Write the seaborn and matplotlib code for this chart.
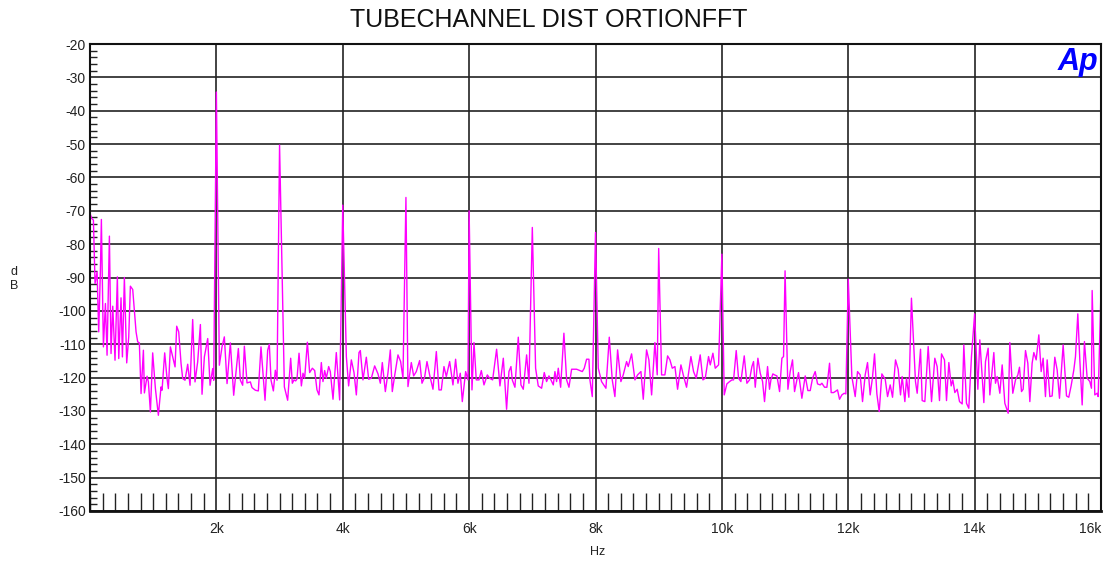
import matplotlib
matplotlib.use("Agg")
import matplotlib.pyplot as plt
import seaborn as sns
import numpy as np
import pandas as pd
from matplotlib.ticker import MultipleLocator

sns.set_style("white")
plt.rcParams['font.family'] = ['Liberation Sans', 'DejaVu Sans']

# FFT trace (Hz, dBV)
freq_hz = [
    0, 27, 54, 80, 112, 138, 164, 180, 212, 244, 270, 307, 333, 360, 396, 433, 455, 491, 513, 544,
    581, 613, 639, 676, 729, 755, 781, 808, 845, 861, 903, 924, 956, 992, 1035, 1082, 1124, 1140,
    1182, 1219, 1240, 1272, 1309, 1346, 1372, 1404, 1441, 1467, 1504, 1546, 1583, 1625, 1662, 1704,
    1747, 1773, 1810, 1863, 1900, 1942, 1958, 2000, 2047, 2089, 2126, 2169, 2221, 2274, 2348, 2380,
    2416, 2443, 2485, 2538, 2564, 2617, 2664, 2706, 2770, 2812, 2838, 2865, 2902, 2933, 2960, 3000,
    3076, 3128,
    3176, 3202, 3229, 3255, 3276, 3308, 3345, 3371, 3397, 3440, 3476, 3519, 3556, 3592, 3624, 3661,
    3687, 3714, 3740, 3777, 3803, 3846, 3898, 3951, 4000, 4057, 4093, 4136, 4178, 4215, 4257, 4278,
    4320, 4373, 4410, 4452, 4505, 4558, 4595, 4626, 4674, 4716, 4753, 4784, 4821, 4874, 4916, 4953,
    5000, 5032, 5085, 5122, 5164, 5217, 5254, 5296, 5333, 5375, 5428, 5481, 5523, 5560, 5602, 5639,
    5692, 5744, 5786, 5823, 5860, 5892, 5945, 5982, 6000, 6045, 6077, 6113, 6156, 6193, 6235, 6288,
    6324,
    6372, 6435, 6488, 6541, 6593, 6630, 6662, 6683, 6725, 6778, 6820, 6857, 6910, 6947, 7000, 7052,
    7094, 7147, 7189, 7226, 7263, 7295, 7332, 7358, 7384, 7411, 7448, 7500, 7543, 7580, 7622, 7701,
    7754, 7791, 7822, 7859, 7896, 7912, 7949, 8000, 8044, 8096, 8165, 8218, 8265, 8307, 8350, 8402,
    8439, 8492, 8518, 8571, 8624, 8666, 8719, 8756, 8808, 8845, 8888, 8940, 8977, 9000, 9046, 9098,
    9141, 9178, 9215, 9257, 9299, 9352, 9389, 9441, 9510,
    9552, 9594, 9657, 9700, 9737, 9789, 9816, 9858, 9895, 9948, 10000, 10037, 10079, 10122, 10159,
    10185, 10227, 10264, 10301, 10354, 10396, 10438, 10475, 10501, 10528, 10570, 10607, 10644, 10675,
    10723, 10754, 10776, 10807, 10834, 10871, 10913, 10950, 10976, 11000, 11045, 11081, 11118, 11150,
    11187, 11213, 11240, 11266, 11319, 11361, 11398, 11435, 11477, 11514, 11556, 11583, 11625, 11662,
    11704, 11730, 11767, 11793, 11830, 11862, 11899, 11936, 11962, 12000, 12057, 12110, 12147, 12189,
    12226, 12268, 12305, 12347, 12384, 12416, 12453, 12490, 12532, 12585, 12622, 12664, 12701,
    12748, 12790, 12827, 12853, 12896, 12922, 12959, 13000, 13064, 13091, 13144, 13170, 13212, 13265,
    13318, 13370, 13407, 13444, 13476, 13523, 13555, 13592, 13629, 13655, 13687, 13724, 13761, 13803,
    13829, 13871, 13908, 13950, 14000, 14051, 14082, 14146, 14172, 14214, 14241, 14304, 14330, 14357,
    14399, 14436, 14478, 14531, 14557, 14604, 14647, 14684, 14710, 14742, 14768, 14805, 14842, 14874,
    14910, 14937, 14974, 15016, 15053, 15084, 15121, 15148, 15190, 15227, 15269, 15306, 15343, 15401,
    15454, 15490, 15527, 15570, 15596, 15633, 15665, 15702, 15738, 15781, 15823, 15849, 15860, 15902,
    15939, 15955, 16000,
]

level_db = [
    -70.8, -72.3, -72.8, -91.8, -88.3, -106.3, -88.3, -72.6, -110.8, -97.8, -113.3, -77.6, -112.8, -98.6, -114.8, -89.8, -114.3, -96.1, -113.8, -90.0,
    -115.6, -107.8, -92.6, -93.6, -106.3, -109.3, -109.6, -124.8, -111.8, -124.6, -119.6, -121.3, -130.3, -112.6, -123.3, -131.3, -122.8, -123.8,
    -112.6, -120.3, -123.3, -110.8, -113.8, -116.8, -104.6, -106.3, -115.8, -120.3, -120.8, -116.0, -122.3, -102.6, -121.3, -115.3,
    -104.1, -125.0, -113.8, -108.3, -122.3, -117.3, -120.8, -34.4, -116.3, -110.8, -107.8, -121.8, -109.6, -125.3, -111.3, -120.8,
    -122.3, -110.6, -121.6, -121.3, -123.0, -123.8, -124.0, -110.8, -126.8, -111.8, -110.0, -120.8, -124.0, -117.8, -120.8, -50.3,
    -122.8, -126.8,
    -114.2, -121.7, -120.7, -121.0, -120.4, -112.7, -122.5, -118.7, -120.2, -109.4, -118.5, -117.2, -117.9, -123.7, -125.2, -115.5,
    -121.2, -117.9, -120.2, -116.7, -118.2, -126.5, -112.5, -126.7, -68.3, -113.7, -122.5, -114.7, -118.5, -125.2, -112.5, -111.9,
    -120.7, -113.9, -120.5, -120.2, -116.5, -118.9, -121.7, -115.5, -124.2, -118.5, -111.7, -124.2, -119.5, -113.2, -115.2, -120.2,
    -66.0, -122.7, -115.5, -119.5, -118.2, -114.9, -121.7, -119.9, -115.2, -119.2, -123.5, -112.2, -123.7, -123.7, -116.7, -119.7,
    -115.2, -122.2, -114.5, -121.7, -118.7, -127.2, -118.2, -120.7, -70.0, -123.7, -109.5, -120.7, -120.7, -117.9, -122.2, -119.2,
    -120.2,
    -120.7, -111.5, -122.5, -114.2, -129.5, -118.2, -116.7, -120.7, -122.9, -107.9, -122.2, -123.5, -113.2, -121.7, -75.0, -117.2,
    -122.5, -123.2, -118.5, -121.2, -119.5, -120.7, -122.2, -118.2, -121.2, -117.2, -122.9, -106.7, -120.7, -122.9, -117.5, -117.5,
    -117.9, -118.2, -117.2, -114.5, -114.5, -120.7, -125.7, -76.5, -117.2, -121.2, -123.2, -107.9, -120.7, -125.7, -111.7, -121.2,
    -119.2, -115.2, -116.7, -112.9, -120.7, -119.2, -118.2, -126.5, -111.7, -114.7, -125.2, -109.5, -119.2, -81.3, -119.2, -119.2,
    -113.5, -114.7, -117.2, -116.7, -123.5, -116.2, -119.2, -122.9, -113.7,
    -118.2, -120.2, -113.2, -120.7, -120.2, -113.7, -116.2, -112.7, -117.2, -116.2, -83.0, -125.2, -121.9, -121.2, -120.7,
    -120.7, -111.9, -120.2, -121.2, -113.5, -121.7, -120.7, -116.7, -115.2, -122.9, -114.2, -118.7, -121.2, -127.2,
    -116.7, -123.5, -120.7, -118.9, -119.2, -119.5, -124.2, -114.2, -113.7, -88.0, -123.5, -118.2, -114.7, -124.2,
    -120.7, -118.5, -122.5, -126.2, -119.5, -123.9, -123.9, -120.2, -118.2, -121.9, -122.2, -121.7, -122.9, -122.9,
    -115.7, -124.5, -124.5, -124.2, -123.7, -126.5, -125.2, -124.7, -124.9, -90.5, -119.7, -125.7, -118.2, -119.2,
    -127.2, -119.2, -115.5, -125.2, -119.9, -112.9, -124.9, -130.2, -118.9, -120.5, -125.7, -122.2, -125.9,
    -114.7, -117.5, -125.2, -119.7, -127.2, -120.2, -125.9, -96.2, -121.2, -124.7, -111.5, -126.9, -127.2, -110.7,
    -127.2, -114.2, -116.7, -126.9, -112.9, -114.7, -126.9, -115.5, -122.5, -120.7, -124.5, -123.5, -127.2, -127.9,
    -110.2, -127.7, -129.2, -113.7, -100.9, -123.5, -108.7, -127.5, -115.2, -111.2, -125.2, -112.5, -121.7, -119.7,
    -124.7, -116.2, -127.7, -130.7, -109.5, -124.7, -120.7, -119.2, -116.9, -124.2, -123.5, -111.9, -115.7, -127.2,
    -115.7, -112.5, -114.7, -107.2, -118.2, -114.2, -125.7, -114.7, -125.7, -125.5, -113.9, -117.7, -126.2, -110.2,
    -125.5, -125.9, -122.5, -117.7, -113.7, -100.9, -114.7, -128.2, -109.2, -120.2, -121.2, -123.2, -93.9, -125.2,
    -124.7, -125.7, -93.7,
]

x_ticks = [2000, 4000, 6000, 8000, 10000, 12000, 14000, 16000]
x_tick_labels = ["2k", "4k", "6k", "8k", "10k", "12k", "14k", "16k"]
y_ticks = list(range(-160, -10, 10))

df = pd.DataFrame({"Hz": freq_hz, "dB": level_db})

fig = plt.figure(figsize=(11.04, 5.61), dpi=100)
ax = fig.add_axes([90 / 1104, 1 - 511 / 561, 1011 / 1104, 467 / 561])

# grid first so the trace sits on top
ax.set_axisbelow(True)
ax.grid(True, which="major", color="#222222", linewidth=1.2)

sns.lineplot(data=df, x="Hz", y="dB", ax=ax, color="#ff00ff", linewidth=1.0,
             estimator=None, sort=False)

ax.set_xlim(0, 16000)
ax.set_ylim(-160, -20)
ax.set_xticks(x_ticks)
ax.set_xticklabels(x_tick_labels)
ax.set_yticks(y_ticks)
ax.set_yticklabels([str(v) for v in y_ticks])
ax.xaxis.set_minor_locator(MultipleLocator(200))
ax.yaxis.set_minor_locator(MultipleLocator(2))

# seaborn's white style switches the ticks off
ax.tick_params(which="both", bottom=True, left=True, top=False, right=False)
ax.tick_params(axis="x", which="major", length=0, pad=8, labelsize=10, colors="#222222")
ax.tick_params(axis="y", which="major", length=0, pad=3, labelsize=10, colors="#222222")
ax.tick_params(axis="x", which="minor", direction="in", length=13, width=1.0, color="#222222")
ax.tick_params(axis="y", which="minor", direction="in", length=5, width=1.0, color="#222222")
# last x label sits inside the right edge
ax.get_xticklabels()[-1].set_horizontalalignment("right")

for side in ["left", "right", "top", "bottom"]:
    ax.spines[side].set_color("#111111")
    ax.spines[side].set_linewidth(1.5)
ax.spines["bottom"].set_linewidth(2)

ax.set_xlabel("Hz", fontsize=9, color="#222222")
ax.xaxis.set_label_coords(0.502, -0.075)
ax.set_ylabel("d\nB", fontsize=9, rotation=0, color="#222222", va="center", ha="center")
ax.yaxis.set_label_coords(-0.075, 0.497)

fig.text(549 / 1104, 1 - 20 / 561, "TUBECHANNEL DIST ORTIONFFT", ha="center", va="center",
         fontsize=18, color="#111111")

# Audio Precision logo
ax.text(0.997, 0.993, "Ap", transform=ax.transAxes, ha="right", va="top", fontsize=22,
        fontweight="bold", fontstyle="italic", color="#0000ff")

fig.savefig("out.png", dpi=100)
